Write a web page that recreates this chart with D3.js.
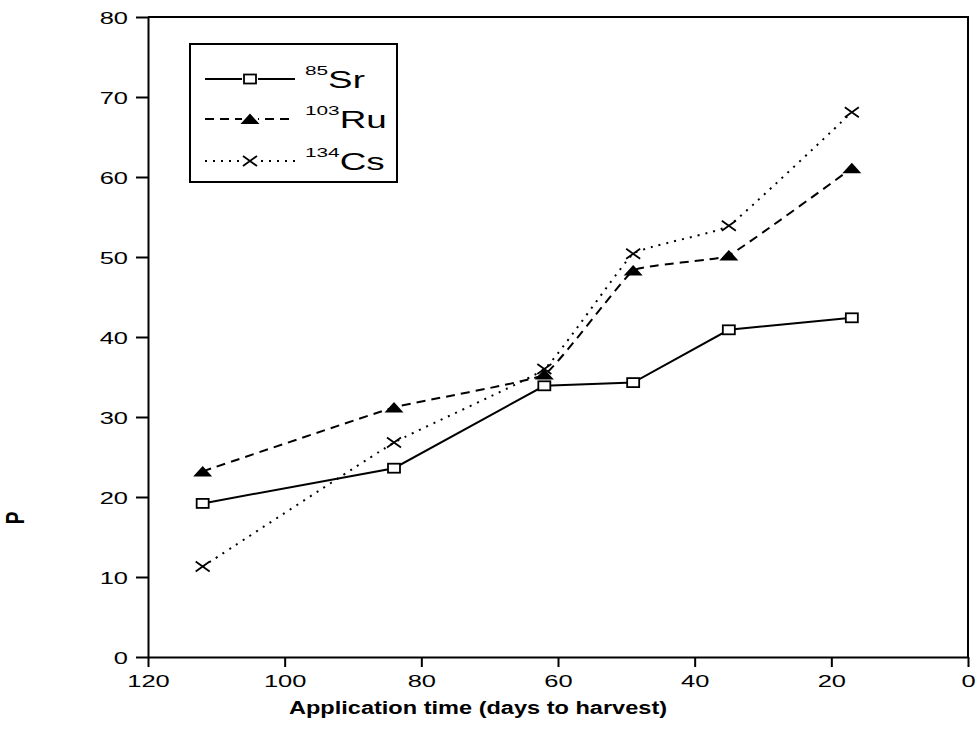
<!DOCTYPE html>
<html>
<head>
<meta charset="utf-8">
<script src="https://cdn.jsdelivr.net/npm/d3@7"></script>
<style>
  body { margin: 0; background: #fff; }
  svg { font-family: "Liberation Sans", Arial, sans-serif; }
</style>
</head>
<body>
<div id="chart"></div>
<script>
// data
const days = [112, 84, 62, 49, 35, 17];
const sr = [19.2, 23.6, 33.9, 34.3, 40.9, 42.4];
const ru = [23.2, 31.2, 35.3, 48.3, 50.2, 61.1];
const cs = [11.3, 26.8, 36.0, 50.4, 53.9, 68.1];
const xTicks = [120, 100, 80, 60, 40, 20, 0];
const yTicks = [0, 10, 20, 30, 40, 50, 60, 70, 80];

const W = 978, H = 749;
const margin = {left: 148, top: 17, right: 10, bottom: 92};
const sx = 1.5; // glyphs in the figure are stretched sideways

const svg = d3.select("#chart").append("svg")
    .attr("width", W)
    .attr("height", H);

const x = d3.scaleLinear().domain([120, 0]).range([margin.left, W - margin.right]);
const y = d3.scaleLinear().domain([0, 80]).range([H - margin.bottom, margin.top]);

// frame
svg.append("path")
    .attr("d", "M" + x(120) + "," + y(80) + "H" + x(0) + "V" + y(0))
    .attr("fill", "none")
    .attr("stroke", "#000")
    .attr("stroke-width", 2);

const xAxis = svg.append("g")
    .attr("transform", "translate(0," + y(0) + ")")
    .call(d3.axisBottom(x).tickValues(xTicks).tickSize(10).tickSizeOuter(0).tickFormat(d3.format("d")));
xAxis.selectAll("text")
    .attr("y", 0).attr("dy", 0)
    .attr("transform", "translate(0,30) scale(" + sx + ",1)")
    .style("font-size", "17px")
    .attr("fill", "#000");

const yAxis = svg.append("g")
    .attr("transform", "translate(" + x(120) + ",0)")
    .call(d3.axisLeft(y).tickValues(yTicks).tickSize(12).tickSizeOuter(0).tickFormat(d3.format("d")));
yAxis.selectAll("text")
    .attr("x", 0).attr("dy", "0.36em")
    .attr("transform", "translate(-20,0) scale(" + sx + ",1)")
    .style("font-size", "17px")
    .attr("fill", "#000");

svg.selectAll(".domain, .tick line")
    .attr("stroke", "#000")
    .attr("stroke-width", 2);

// axis titles
svg.append("text")
    .attr("transform", "translate(478,714) scale(1.24,1)")
    .attr("text-anchor", "middle")
    .style("font-size", "19px")
    .style("font-weight", "bold")
    .text("Application time (days to harvest)");

svg.append("text")
    .attr("transform", "translate(24,518) rotate(-90) scale(1,1.35)")
    .attr("text-anchor", "middle")
    .style("font-size", "19px")
    .style("font-weight", "bold")
    .text("P");

const series = [
    {name: "Sr", mass: "85", values: sr, dash: null, curve: d3.curveLinear, marker: "square"},
    {name: "Ru", mass: "103", values: ru, dash: "9,6", curve: d3.curveCardinal.tension(0.7), marker: "triangle"},
    {name: "Cs", mass: "134", values: cs, dash: "2,6", curve: d3.curveCardinal.tension(0.7), marker: "cross"}
];

function drawMarker(g, kind) {
    if (kind === "square") {
        g.append("rect")
            .attr("x", -6).attr("y", -4.5).attr("width", 12).attr("height", 9)
            .attr("fill", "#fff").attr("stroke", "#000").attr("stroke-width", 1.8);
    } else if (kind === "triangle") {
        g.append("path")
            .attr("d", "M0,-5.5L9.5,5H-9.5Z")
            .attr("fill", "#000");
    } else {
        g.append("path")
            .attr("d", "M-7,-5L7,5M-7,5L7,-5")
            .attr("stroke", "#000").attr("stroke-width", 1.8);
    }
}

series.forEach(function(s) {
    const pts = days.map((d, i) => [d, s.values[i]]);
    const line = d3.line()
        .x(d => x(d[0]))
        .y(d => y(d[1]))
        .curve(s.curve);
    svg.append("path")
        .datum(pts)
        .attr("d", line)
        .attr("fill", "none")
        .attr("stroke", "#000")
        .attr("stroke-width", 2)
        .attr("stroke-dasharray", s.dash);
    svg.selectAll(null)
        .data(pts)
        .join("g")
        .attr("transform", d => "translate(" + x(d[0]) + "," + y(d[1]) + ")")
        .each(function() { drawMarker(d3.select(this), s.marker); });
});

// legend
const legend = svg.append("g");
legend.append("rect")
    .attr("x", 190).attr("y", 44).attr("width", 207).attr("height", 138)
    .attr("fill", "#fff").attr("stroke", "#000").attr("stroke-width", 2);

const rowY = [79, 119, 161];
series.forEach(function(s, i) {
    const ry = rowY[i];
    legend.append("line")
        .attr("x1", 205).attr("x2", 295).attr("y1", ry).attr("y2", ry)
        .attr("stroke", "#000").attr("stroke-width", 2)
        .attr("stroke-dasharray", s.dash);
    const m = legend.append("g").attr("transform", "translate(250," + ry + ")");
    m.append("rect").attr("x", -8).attr("y", -6).attr("width", 16).attr("height", 12).attr("fill", "#fff");
    drawMarker(m, s.marker);
    const t = legend.append("text")
        .attr("transform", "translate(305," + (ry + 9) + ") scale(1.6,1)")
        .style("font-size", "23px");
    t.append("tspan")
        .attr("dy", -13)
        .style("font-size", "13px")
        .text(s.mass);
    t.append("tspan")
        .attr("dy", 13)
        .text(s.name);
});
</script>
</body>
</html>
